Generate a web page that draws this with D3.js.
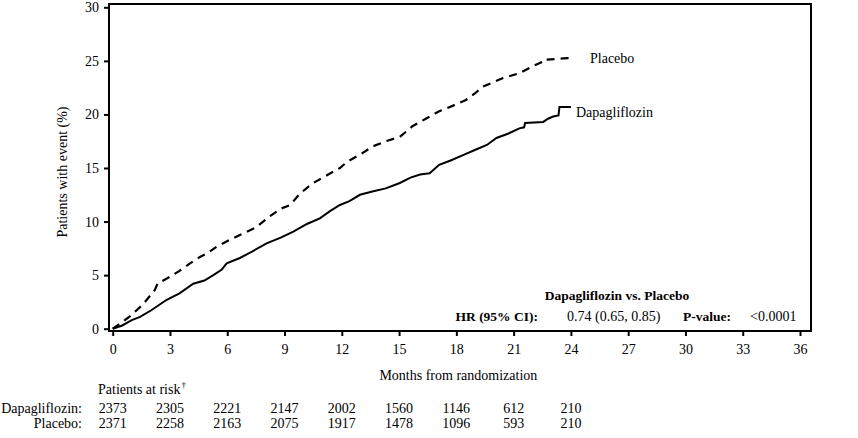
<!DOCTYPE html>
<html>
<head>
<meta charset="utf-8">
<script src="https://cdn.jsdelivr.net/npm/d3@7"></script>
<style>
  html, body { margin: 0; padding: 0; background: #fff; }
  svg { display: block; }
  text { font-family: "Liberation Serif", "Times New Roman", serif; fill: #000; }
</style>
</head>
<body>
<svg id="chart" width="858" height="438"></svg>
<script>
// ---- data ----
const xTicks = [0, 3, 6, 9, 12, 15, 18, 21, 24, 27, 30, 33, 36];
const yTicks = [0, 5, 10, 15, 20, 25, 30];

const dapaMonths = [0, 0.5, 1.0, 1.43, 2.0, 2.83, 3.5, 4.22, 4.8, 5.27, 5.7, 5.97, 6.66, 7.3, 8.06, 8.8, 9.46, 10.2, 10.85, 11.4, 11.9, 12.4, 12.95, 13.6, 14.3, 15.04, 15.6, 16.1, 16.6, 17.1, 17.7, 18.35, 19.0, 19.6, 20.1, 20.7, 21.3, 21.55, 21.6, 22.55, 22.8, 23.07, 23.35, 23.4, 24.0];
const dapaPct    = [0, 0.3, 0.8, 1.1, 1.7, 2.7, 3.3, 4.2, 4.5, 5.0, 5.5, 6.1, 6.6, 7.2, 7.97, 8.5, 9.06, 9.8, 10.3, 11.0, 11.55, 11.9, 12.5, 12.8, 13.1, 13.6, 14.1, 14.4, 14.5, 15.3, 15.7, 16.2, 16.7, 17.15, 17.8, 18.2, 18.7, 18.8, 19.2, 19.3, 19.6, 19.8, 19.9, 20.7, 20.7];

const placMonths = [0, 0.5, 1.0, 1.6, 2.2, 2.35, 3.0, 3.5, 4.05, 4.57, 5.0, 5.44, 6.14, 6.66, 7.5, 8.2, 8.8, 9.3, 9.8, 10.5, 11.0, 11.55, 11.9, 12.3, 13.0, 13.6, 14.3, 15.04, 15.7, 16.4, 17.1, 17.8, 18.5, 19.0, 19.4, 20.45, 21.3, 22.0, 22.5, 22.55, 23.8, 24.0];
const placPct    = [0, 0.6, 1.3, 2.3, 3.6, 4.2, 4.85, 5.4, 6.1, 6.7, 7.1, 7.65, 8.3, 8.75, 9.45, 10.45, 11.2, 11.55, 12.6, 13.6, 14.1, 14.65, 15.0, 15.6, 16.3, 17.0, 17.5, 17.9, 18.9, 19.6, 20.3, 20.8, 21.35, 22.0, 22.6, 23.4, 23.85, 24.5, 24.9, 25.1, 25.25, 25.25];

const riskMonths  = [0, 3, 6, 9, 12, 15, 18, 21, 24];
const riskDapa    = [2373, 2305, 2221, 2147, 2002, 1560, 1146, 612, 210];
const riskPlacebo = [2371, 2258, 2163, 2075, 1917, 1478, 1096, 593, 210];

const seriesNames = ["Placebo", "Dapagliflozin"];
const xTitle = "Months from randomization";
const yTitle = "Patients with event (%)";

// ---- layout ----
const svg = d3.select("#chart");
const box = { left: 109, top: 4, right: 811, bottom: 331 };
const x = d3.scaleLinear().domain([0, 36]).range([112.7, 800]);
const y = d3.scaleLinear().domain([0, 30]).range([328.7, 7.3]);
const FS = 14;

// frame
svg.append("rect")
  .attr("x", box.left).attr("y", box.top)
  .attr("width", box.right - box.left).attr("height", box.bottom - box.top)
  .attr("fill", "none").attr("stroke", "#000").attr("stroke-width", 2);

// y axis
const yAxis = svg.append("g").attr("transform", `translate(${box.left},0)`)
  .call(d3.axisLeft(y).tickValues(yTicks).tickSize(5).tickPadding(5).tickFormat(d3.format("d")));
yAxis.select(".domain").remove();
yAxis.selectAll("line").attr("stroke", "#000").attr("stroke-width", 2);
yAxis.selectAll("text").attr("font-size", FS).attr("font-family", "Liberation Serif");

// x axis
const xAxis = svg.append("g").attr("transform", `translate(0,${box.bottom})`)
  .call(d3.axisBottom(x).tickValues(xTicks).tickSize(5).tickPadding(8).tickFormat(d3.format("d")));
xAxis.select(".domain").remove();
xAxis.selectAll("line").attr("stroke", "#000").attr("stroke-width", 2);
xAxis.selectAll("text").attr("font-size", FS).attr("font-family", "Liberation Serif");

// axis titles
svg.append("text").attr("x", x(18) + 2).attr("y", 380).attr("text-anchor", "middle")
  .attr("font-size", FS).text(xTitle);
svg.append("text").attr("transform", "translate(67,172) rotate(-90)").attr("text-anchor", "middle")
  .attr("font-size", FS).text(yTitle);

// curves
const line = d3.line().x(d => x(d[0])).y(d => y(d[1])).curve(d3.curveLinear);
const dapaData = dapaMonths.map((m, i) => [m, dapaPct[i]]);
const placData = placMonths.map((m, i) => [m, placPct[i]]);

svg.append("path").datum(placData).attr("d", line)
  .attr("fill", "none").attr("stroke", "#000").attr("stroke-width", 2.2)
  .attr("stroke-dasharray", "8,6");
svg.append("path").datum(dapaData).attr("d", line)
  .attr("fill", "none").attr("stroke", "#000").attr("stroke-width", 2);

// series labels
svg.append("text").attr("x", 590).attr("y", y(25.25) + 5).attr("font-size", FS).text(seriesNames[0]);
svg.append("text").attr("x", 576).attr("y", y(20.2) + 5).attr("font-size", FS).text(seriesNames[1]);

// annotation
svg.append("text").attr("x", 617).attr("y", 300).attr("text-anchor", "middle")
  .attr("font-size", 13.5).attr("font-weight", "bold").text("Dapagliflozin vs. Placebo");
svg.append("text").attr("x", 538).attr("y", 321).attr("text-anchor", "end")
  .attr("font-size", 13.5).attr("font-weight", "bold").text("HR (95% CI):");
svg.append("text").attr("x", 567).attr("y", 321)
  .attr("font-size", FS).text("0.74 (0.65, 0.85)");
svg.append("text").attr("x", 683).attr("y", 321)
  .attr("font-size", 13.5).attr("font-weight", "bold").text("P-value:");
svg.append("text").attr("x", 750).attr("y", 321)
  .attr("font-size", FS).text("<0.0001");

// risk table
const rt = svg.append("text").attr("x", 98).attr("y", 394).attr("font-size", FS);
rt.append("tspan").text("Patients at risk");
rt.append("tspan").attr("font-size", 9).attr("dy", -6).attr("dx", 1).text("†");

svg.append("text").attr("x", 82).attr("y", 413).attr("text-anchor", "end").attr("font-size", FS).text("Dapagliflozin:");
svg.append("text").attr("x", 82).attr("y", 428).attr("text-anchor", "end").attr("font-size", FS).text("Placebo:");

svg.append("g").selectAll("text").data(riskMonths).join("text")
  .attr("x", d => x(d)).attr("y", 413).attr("text-anchor", "middle").attr("font-size", FS)
  .text((d, i) => riskDapa[i]);
svg.append("g").selectAll("text").data(riskMonths).join("text")
  .attr("x", d => x(d)).attr("y", 428).attr("text-anchor", "middle").attr("font-size", FS)
  .text((d, i) => riskPlacebo[i]);
</script>
</body>
</html>
